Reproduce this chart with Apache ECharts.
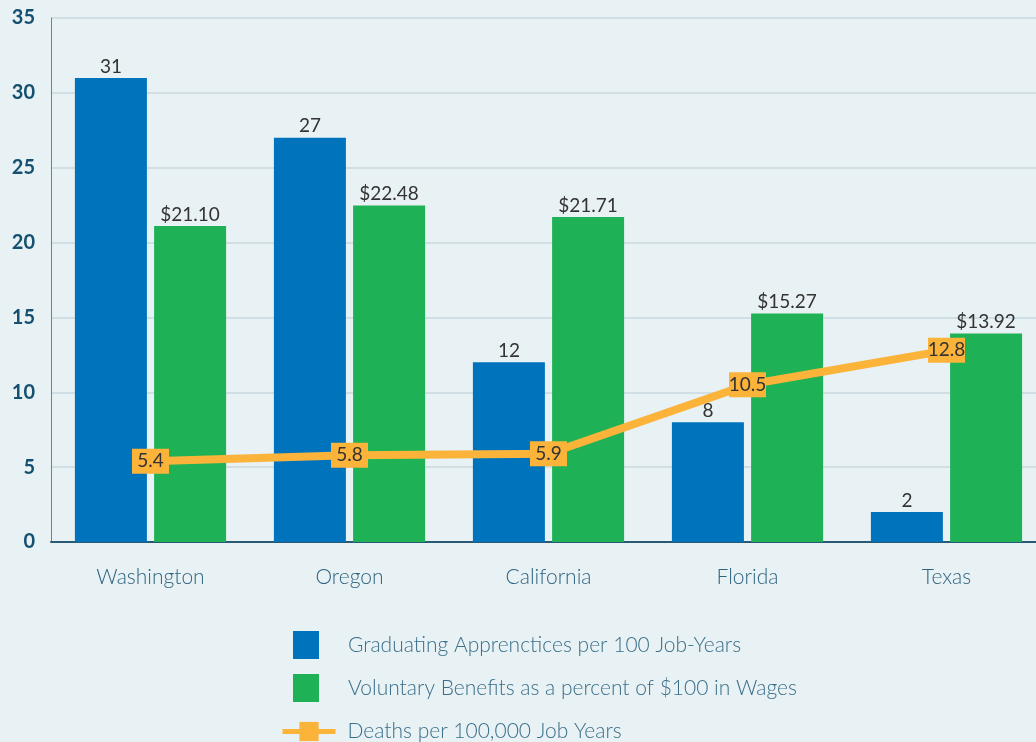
<!DOCTYPE html>
<html>
<head>
<meta charset="utf-8">
<script src="https://cdn.jsdelivr.net/npm/echarts@6/dist/echarts.min.js"></script>
<style>
html,body{margin:0;padding:0;background:#e8f1f4;}
#chart{width:1036px;height:742px;}
</style>
</head>
<body>
<div id="chart"></div>
<script>
const categories = ['Washington', 'Oregon', 'California', 'Florida', 'Texas'];
const apprentices = [31, 27, 12, 8, 2];
const benefits = [21.10, 22.48, 21.71, 15.27, 13.92];
const deaths = [5.4, 5.8, 5.9, 10.5, 12.8];
const seriesNames = [
  'Graduating Apprenctices per 100 Job-Years',
  'Voluntary Benefits as a percent of $100 in Wages',
  'Deaths per 100,000 Job Years'
];

const chart = echarts.init(document.getElementById('chart'));
const font = 'Lato';
chart.setOption({
  backgroundColor: '#e8f1f4',
  animation: false,
  textStyle: { fontFamily: font },
  grid: { left: 51, top: 18, width: 995, height: 524, outerBoundsMode: 'none', containLabel: false },
  legend: [
    {
      orient: 'vertical', left: 293, top: 631, padding: 0,
      itemWidth: 26, itemHeight: 28, itemGap: 15,
      icon: 'rect',
      data: [seriesNames[0], seriesNames[1]],
      textStyle: { fontFamily: font, fontSize: 21, fontWeight: 300, color: '#3a6f8a', padding: [0, 0, 0, 24] }
    },
    {
      orient: 'vertical', left: 280, top: 721, padding: 0,
      itemWidth: 53, itemHeight: 24,
      data: [seriesNames[2]],
      lineStyle: { width: 5 },
      textStyle: { fontFamily: font, fontSize: 21, fontWeight: 300, color: '#3a6f8a', padding: [0, 0, 0, 7] }
    }
  ],
  xAxis: {
    type: 'category',
    data: categories,
    axisLine: { lineStyle: { color: '#2a5a73', width: 2 } },
    axisTick: { show: false },
    axisLabel: { fontFamily: font, fontSize: 21, fontWeight: 300, color: '#2f6480', margin: 25 }
  },
  yAxis: {
    type: 'value', min: 0, max: 35, interval: 5,
    axisLine: { show: true, lineStyle: { color: '#5a8aa0', width: 1 } },
    axisTick: { show: false },
    splitLine: { lineStyle: { color: '#cfdfe5', width: 2 } },
    axisLabel: { fontFamily: font, fontSize: 20, fontWeight: 'bold', color: '#14506f', margin: 16 }
  },
  series: [
    {
      name: seriesNames[0], type: 'bar', data: apprentices,
      barWidth: 72, barGap: '10%',
      itemStyle: { color: '#0073bd' },
      label: { show: true, position: 'top', distance: 2, fontFamily: font, fontSize: 19, color: '#333' }
    },
    {
      name: seriesNames[1], type: 'bar', data: benefits,
      barWidth: 72,
      itemStyle: { color: '#1eb155' },
      label: { show: true, position: 'top', distance: 2, fontFamily: font, fontSize: 19, color: '#333',
        formatter: p => '$' + p.value.toFixed(2) }
    },
    {
      name: seriesNames[2], type: 'line', data: deaths,
      symbol: 'rect', symbolSize: [37, 25],
      lineStyle: { color: '#fbb33a', width: 8 },
      itemStyle: { color: '#fbb33a' },
      z: 5,
      label: { show: true, position: 'inside', fontFamily: font, fontSize: 19, color: '#333',
        formatter: p => p.value.toFixed(1) }
    }
  ]
});
</script>
</body>
</html>
